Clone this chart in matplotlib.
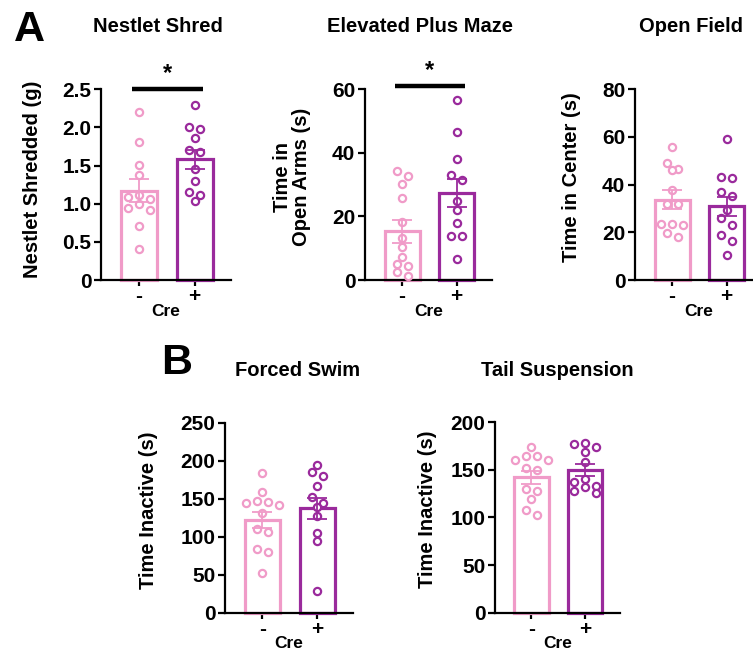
import matplotlib
matplotlib.use("Agg")
import matplotlib.pyplot as plt
import numpy as np

plt.rcParams['font.family'] = ['Liberation Sans', 'DejaVu Sans']
plt.rcParams['font.weight'] = 'bold'

# ---------------- data ----------------
groups = ["-", "+"]
xlabel_text = "Cre"

nestlet_minus = [2.20, 1.81, 1.51, 1.38, 1.12, 1.09, 1.06, 0.99, 0.95, 0.92, 0.71, 0.40]
nestlet_plus = [2.29, 2.01, 1.98, 1.86, 1.71, 1.68, 1.46, 1.30, 1.15, 1.11, 1.03]
nestlet_mean = [1.17, 1.58]
nestlet_sem = [0.15, 0.13]

epm_minus = [34.3, 32.8, 30.1, 25.9, 18.3, 13.3, 10.5, 7.2, 4.9, 4.5, 2.5, 1.2]
epm_plus = [56.7, 46.7, 38.1, 33.0, 31.4, 24.9, 21.9, 17.8, 13.9, 13.8, 6.5]
epm_mean = [15.3, 27.4]
epm_sem = [3.6, 4.5]

of_minus = [55.7, 49.2, 46.4, 46.1, 37.8, 31.9, 31.9, 23.4, 23.4, 22.9, 19.8, 18.2]
of_plus = [59.1, 43.3, 42.6, 37.0, 35.2, 29.4, 25.9, 23.1, 18.9, 16.5, 10.5]
of_mean = [33.7, 30.9]
of_sem = [4.0, 4.0]

fs_minus = [183.4, 159.2, 147.0, 145.7, 144.7, 141.7, 130.8, 110.1, 106.2, 83.4, 79.5, 52.6]
fs_plus = [194.7, 185.1, 180.3, 167.1, 152.6, 144.7, 139.5, 127.6, 104.5, 94.3, 28.2]
fs_mean = [122.5, 137.5]
fs_sem = [10.5, 14.0]

ts_minus = [173.9, 164.7, 164.7, 159.9, 159.9, 151.5, 149.4, 129.5, 127.7, 119.3, 108.1, 102.5]
ts_plus = [177.7, 176.7, 173.9, 168.3, 158.5, 140.0, 136.8, 133.3, 132.2, 128.0, 125.3]
ts_mean = [141.8, 149.5]
ts_sem = [6.8, 6.2]

titles = ["Nestlet Shred", "Elevated Plus Maze", "Open Field", "Forced Swim", "Tail Suspension"]
ylabels = ["Nestlet Shredded (g)", "Time in\nOpen Arms (s)", "Time in Center (s)",
           "Time Inactive (s)", "Time Inactive (s)"]
yticks = [[0, 0.5, 1.0, 1.5, 2.0, 2.5], [0, 20, 40, 60], [0, 20, 40, 60, 80],
          [0, 50, 100, 150, 200, 250], [0, 50, 100, 150, 200]]
yticklabels = [["0", "0.5", "1.0", "1.5", "2.0", "2.5"], ["0", "20", "40", "60"],
               ["0", "20", "40", "60", "80"], ["0", "50", "100", "150", "200", "250"],
               ["0", "50", "100", "150", "200"]]
sig_level = [2.5, 61.0, None, None, None]

# ---------------- layout ----------------
W, H = 753, 650
fig = plt.figure(figsize=(W / 100, H / 100), dpi=100)

def rect(x0, x1, ytop, ybot):
    return [x0 / W, 1 - ybot / H, (x1 - x0) / W, (ybot - ytop) / H]

rects = [rect(101, 231, 89.3, 280), rect(365, 492, 89.3, 280), rect(635, 762, 89.3, 280),
         rect(225, 353, 422.7, 612.7), rect(495, 620, 422, 612.7)]
ylab_x = [-0.53, -0.575, -0.50, -0.60, -0.54]
ylab_y = [0.53, 0.54, 0.54, 0.54, 0.545]
title_pos = [(157.5, 26), (420, 26), (691, 26), (298, 371), (557, 371)]

c_minus = "#F09BC8"
c_plus = "#9A2A9C"
colors = [c_minus, c_plus]

datasets = [
    (nestlet_minus, nestlet_plus, nestlet_mean, nestlet_sem),
    (epm_minus, epm_plus, epm_mean, epm_sem),
    (of_minus, of_plus, of_mean, of_sem),
    (fs_minus, fs_plus, fs_mean, fs_sem),
    (ts_minus, ts_plus, ts_mean, ts_sem),
]

xlim = (-0.68, 1.65)
bar_w = 0.64


def scatter_offsets(vals, px_per_unit_y, step_units, thresh_px=7.0):
    """GraphPad-like scatter: points close in y share a row, centred."""
    vals = np.asarray(vals, dtype=float)
    order = np.argsort(-vals)
    res = np.zeros(len(vals))
    rows = []
    for i in order:
        if rows and (vals[rows[-1][0]] - vals[i]) * px_per_unit_y < thresh_px:
            rows[-1].append(i)
        else:
            rows.append([i])
    for row in rows:
        n = len(row)
        if n % 2 == 1:
            slots = [0]
            for k in range(1, n // 2 + 1):
                slots += [-k, k]
        else:
            slots = []
            for k in range(n // 2):
                slots += [-(k + 0.5), k + 0.5]
        for idx, s in zip(row, slots):
            res[idx] = s * step_units
    return res


for i, (r, (mn, pl, mean, sem)) in enumerate(zip(rects, datasets)):
    ax = fig.add_axes(r)
    ymax = yticks[i][-1]
    ax.set_xlim(*xlim)
    ax.set_ylim(0, ymax)
    ax_w_px = r[2] * W
    ax_h_px = r[3] * H
    unit_px = ax_w_px / (xlim[1] - xlim[0])
    ax.bar([0, 1], mean, width=bar_w, color="white", edgecolor=colors,
           linewidth=2.3, zorder=2, clip_on=False)
    for g, vals in enumerate([mn, pl]):
        offs = scatter_offsets(vals, ax_h_px / ymax, 11.0 / unit_px)
        ax.plot(g + offs, vals, 'o', ms=5.2, mfc='white', mec=colors[g], mew=1.6,
                zorder=3, clip_on=False)
        ax.errorbar([g], [mean[g]], yerr=[sem[g]], fmt='none', ecolor=colors[g],
                    elinewidth=1.3, capsize=7, capthick=1.3, zorder=4)
    for s in ["top", "right"]:
        ax.spines[s].set_visible(False)
    for s in ["left", "bottom"]:
        ax.spines[s].set_linewidth(1.6)
    ax.set_yticks(yticks[i])
    ax.set_yticklabels(yticklabels[i], fontsize=15, fontweight='bold')
    ax.set_xticks([0, 1])
    ax.set_xticklabels(groups, fontsize=15, fontweight='bold')
    ax.tick_params(axis='y', length=5, width=1.6, pad=2)
    ax.tick_params(axis='x', length=4, width=1.6, pad=1)
    ax.set_ylabel(ylabels[i], fontsize=14.5, fontweight='bold', linespacing=1.05)
    ax.yaxis.label.set_va('center')
    ax.yaxis.set_label_coords(ylab_x[i], ylab_y[i])
    ax.set_xlabel(xlabel_text, fontsize=12.5, fontweight='bold')
    ax.xaxis.label.set_va('center')
    ax.xaxis.set_label_coords(0.5, -31 / ax_h_px)
    if sig_level[i] is not None:
        ax.plot([-0.13, 1.15], [sig_level[i], sig_level[i]], color='black', lw=3.2,
                solid_capstyle='butt', clip_on=False, zorder=5)
        ax.annotate("*", xy=(0.51, sig_level[i]), xytext=(0, 3), textcoords='offset points',
                    ha='center', va='bottom', fontsize=17, fontweight='bold',
                    annotation_clip=False)
    tx, ty = title_pos[i]
    fig.text(tx / W, 1 - ty / H, titles[i], ha='center', va='center', fontsize=14.5,
             fontweight='bold')

fig.text(29 / W, 1 - 30 / H, "A", ha='center', va='center', fontsize=31, fontweight='bold')
fig.text(177 / W, 1 - 363 / H, "B", ha='center', va='center', fontsize=31, fontweight='bold')

fig.savefig("out.png", dpi=100)
